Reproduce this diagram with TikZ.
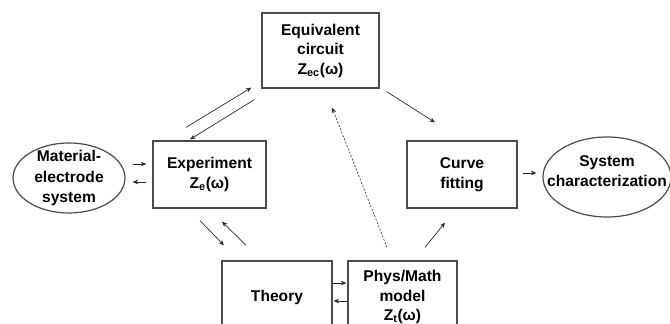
\documentclass[tikz,border=0pt]{standalone}
\usepackage{fontspec}
\setmainfont{Liberation Sans}
\usetikzlibrary{shapes.geometric,calc,arrows.meta}
\definecolor{frame}{RGB}{75,75,75}
\definecolor{wire}{RGB}{40,40,40}
\tikzset{
  box/.style={draw=frame,line width=1.2pt,inner sep=0pt,align=center},
  oval/.style={draw=frame,line width=1.2pt,ellipse,inner sep=0pt},
  txt/.style={align=center,inner sep=0pt},
  arr/.style={draw=wire,line width=0.7pt,-{Stealth[length=5.5pt,width=4.5pt]}},
}
\begin{document}
\begin{tikzpicture}[x=1pt,y=1pt,font=\bfseries\fontsize{15.6}{19.5}\selectfont]
\useasboundingbox (0,0) rectangle (670,324);
% the blocks
\node[oval,minimum width=112pt,minimum height=70pt,
  label={[txt,font=\bfseries\fontsize{15.6}{20.5}\selectfont]center:Material-\\electrode\\system}] (mat) at (69,146) {};
\node[box,minimum width=113pt,minimum height=67pt] (exp) at (209.5,149.5) {Experiment\\Z\textsubscript{e}(ω)};
\node[box,minimum width=117pt,minimum height=75pt] (eqc) at (320.5,273.5) {Equivalent\\circuit\\Z\textsubscript{ec}(ω)};
\node[box,minimum width=110pt,minimum height=67pt] (fit) at (462,149.5) {Curve\\fitting};
\node[oval,minimum width=128pt,minimum height=80pt,
  label={[txt,yshift=6pt]center:System\\characterization}] (sys) at (607,147) {};
\node[box,minimum width=110pt,minimum height=72pt] (the) at (277,27) {Theory};
\node[box,minimum width=109pt,minimum height=72pt] (phy) at (402.5,27) {Phys/Math\\model\\Z\textsubscript{t}(ω)};

% arrows
\draw[arr] ($(mat.east)+(7,14)$) -- ($(exp.west)+(-6,10.5)$);
\draw[arr] ($(exp.west)+(-6,-7.5)$) -- ($(mat.east)+(7,-4)$);
\draw[arr] ($(exp.north)+(-23.5,13)$) -- ($(eqc.south west)+(-10,1)$);
\draw[arr] ($(eqc.south west)+(-7,-11)$) -- ($(exp.north)+(-19.5,1)$);
\draw[arr] ($(eqc.south east)+(7,-3)$) -- ($(fit.north)+(-27,18)$);
\draw[arr] ($(exp.south)+(-9.5,-12)$) -- ($(the.north)+(-53,15)$);
\draw[arr] ($(the.north)+(-31,15)$) -- ($(exp.south)+(12.5,-13)$);
\draw[arr] ($(the.east)+(0,14)$) -- ($(phy.west)+(-1,14)$);
\draw[arr] ($(phy.west)+(0,-4)$) -- ($(the.east)+(1,-4)$);
\draw[arr] ($(phy.north)+(22.5,13)$) -- ($(fit.south)+(-17,-14)$);
\draw[arr,dash pattern=on 2pt off 1.6pt,line width=0.6pt] ($(phy.north)+(-15.5,13)$) -- ($(eqc.south)+(11.5,-19)$);
\draw[arr] ($(fit.east)+(5,1.5)$) -- ($(sys.west)+(-6,4)$);
\end{tikzpicture}
\end{document}
